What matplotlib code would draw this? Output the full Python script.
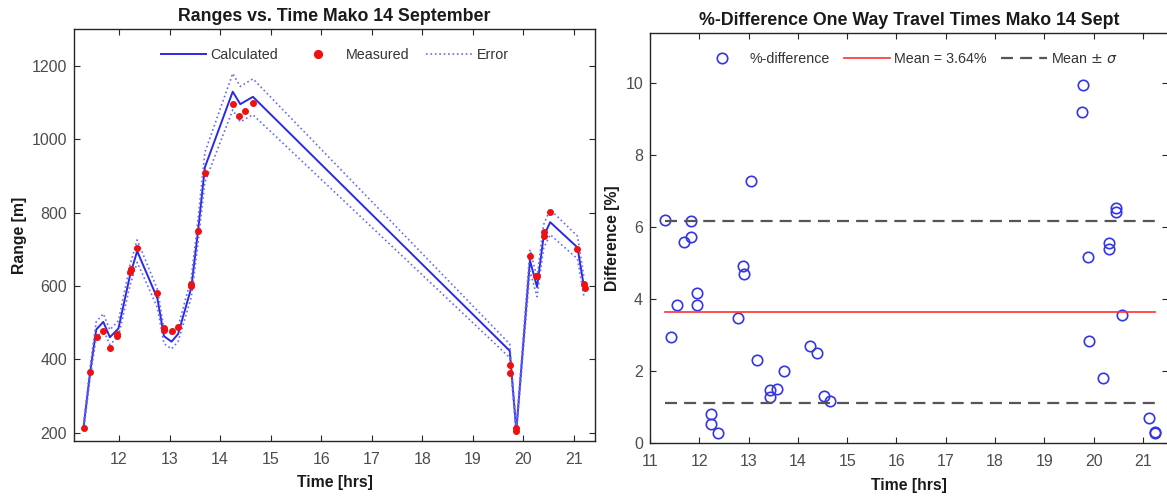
import numpy as np
import matplotlib
matplotlib.use("Agg")
import matplotlib.pyplot as plt

plt.rcParams['font.family'] = ['Liberation Sans', 'DejaVu Sans']

# calculated range track [hrs, m]
calc_t = [11.30, 11.43, 11.55, 11.69, 11.82, 11.99, 12.22, 12.36, 12.76, 12.89,
          13.04, 13.17, 13.43, 13.56, 13.70, 14.25, 14.40, 14.65, 19.73, 19.86,
          20.13, 20.27, 20.40, 20.53, 21.07, 21.20]
calc_r = [215, 365, 481, 502, 460, 484, 630, 695, 566, 463,
          448, 469, 595, 745, 924, 1130, 1096, 1116, 423, 205,
          670, 597, 735, 774, 705, 596]
err_frac = 0.044

# measured ranges
meas_t = [11.30, 11.43, 11.56, 11.69, 11.82, 11.96, 11.97, 12.22, 12.23, 12.36,
          12.76, 12.89, 12.89, 13.04, 13.17, 13.43, 13.43, 13.56, 13.70, 14.25,
          14.38, 14.50, 14.65, 19.73, 19.74, 19.86, 19.86, 20.13, 20.24, 20.27,
          20.40, 20.40, 20.53, 21.07, 21.19, 21.21]
meas_r = [212, 364, 461, 477, 432, 463, 470, 638, 645, 704,
          582, 486, 481, 477, 488, 606, 599, 749, 907, 1096,
          1065, 1077, 1100, 384, 362, 212, 205, 683, 627, 627,
          747, 735, 803, 702, 604, 594]

# percent difference in one way travel time
pd_t = [11.30, 11.42, 11.55, 11.69, 11.83, 11.84, 11.96, 11.96, 12.23, 12.23,
        12.37, 12.78, 12.89, 12.90, 13.04, 13.18, 13.44, 13.44, 13.58, 13.71,
        14.25, 14.39, 14.52, 14.66, 19.77, 19.79, 19.89, 19.91, 20.18, 20.31,
        20.31, 20.45, 20.45, 20.58, 21.12, 21.24, 21.25]
pd_v = [6.19, 2.95, 3.84, 5.58, 5.74, 6.16, 4.18, 3.84, 0.81, 0.53,
        0.28, 3.49, 4.93, 4.69, 7.29, 2.31, 1.48, 1.28, 1.51, 2.00,
        2.71, 2.50, 1.32, 1.18, 9.21, 9.95, 5.18, 2.83, 1.82, 5.56,
        5.40, 6.54, 6.41, 3.55, 0.69, 0.32, 0.29]
pd_mean = 3.64
pd_std = 2.53

axis_col = '#262626'
tick_col = '#4d4d4d'

fig = plt.figure(figsize=(11.67, 4.98), dpi=100)
ax1 = fig.add_axes([0.0634, 0.1145, 0.4466, 0.8265])
ax2 = fig.add_axes([0.557, 0.110, 0.4435, 0.824])


def matlab_style(ax):
    for s in ax.spines.values():
        s.set_color(axis_col)
        s.set_linewidth(1.0)
    ax.tick_params(direction='in', top=True, right=True, length=4,
                   color=axis_col, labelcolor=tick_col, labelsize=11.5, pad=5)
    ax.tick_params(axis='x', pad=8)


# ranges vs time
ct = np.array(calc_t)
cr = np.array(calc_r, dtype=float)
ax1.plot(ct, cr, '-', color='#2a2ae6', lw=1.4, label='Calculated')
ax1.plot(meas_t, meas_r, 'o', color='#ee1111', ms=4, label='Measured', zorder=3)
ax1.plot(ct, cr * (1 + err_frac), ':', color='#6a6af0', lw=1.2, label='Error')
ax1.plot(ct, cr * (1 - err_frac), ':', color='#6a6af0', lw=1.2)
ax1.set_xlim(11.11, 21.42)
ax1.set_ylim(177, 1300)
ax1.set_xticks(range(12, 22))
ax1.set_yticks(range(200, 1201, 200))
matlab_style(ax1)
ax1.set_title('Ranges vs. Time Mako 14 September', fontsize=12.8, fontweight='bold',
              color='#1a1a1a', pad=6)
ax1.set_xlabel('Time [hrs]', fontsize=11.3, fontweight='bold', color='#1a1a1a', labelpad=6)
ax1.set_ylabel('Range [m]', fontsize=11.3, fontweight='bold', color='#1a1a1a', labelpad=3)
leg1 = ax1.legend(loc='upper center', ncol=3, frameon=False, fontsize=10.3,
                  bbox_to_anchor=(0.5, 0.985), handlelength=3.2, columnspacing=1.2,
                  handletextpad=0.3, markerscale=1.4)
for t in leg1.get_texts():
    t.set_color('#333333')

# percent difference
ax2.plot(pd_t, pd_v, 'o', mfc='none', mec='#3535e8', ms=7.5, mew=1.2,
         label='%-difference')
t0, t1 = min(pd_t), max(pd_t)
ax2.plot([t0, t1], [pd_mean, pd_mean], '-', color='#ff3030', lw=1.2,
         label='Mean = %.2f%%' % pd_mean)
ax2.plot([t0, t1], [pd_mean + pd_std] * 2, '--', color='#555555', lw=1.6,
         dashes=(5.4, 3.2), label=r'Mean $\pm$ $\sigma$')
ax2.plot([t0, t1], [pd_mean - pd_std] * 2, '--', color='#555555', lw=1.6,
         dashes=(5.4, 3.2))
ax2.set_xlim(11, 21.5)
ax2.set_ylim(0, 11.4)
ax2.set_xticks(range(11, 22))
ax2.set_yticks(range(0, 11, 2))
matlab_style(ax2)
ax2.set_title('%-Difference One Way Travel Times Mako 14 Sept', fontsize=12.8,
              fontweight='bold', color='#1a1a1a', pad=6)
ax2.set_xlabel('Time [hrs]', fontsize=11.3, fontweight='bold', color='#1a1a1a', labelpad=6)
ax2.set_ylabel('Difference [%]', fontsize=11.3, fontweight='bold', color='#1a1a1a', labelpad=4)
leg2 = ax2.legend(loc='upper center', ncol=3, frameon=False, fontsize=10.3,
                  bbox_to_anchor=(0.5, 0.985), handlelength=3.2, columnspacing=1.0,
                  handletextpad=0.3)
for t in leg2.get_texts():
    t.set_color('#333333')

fig.savefig('out.png', dpi=100)
